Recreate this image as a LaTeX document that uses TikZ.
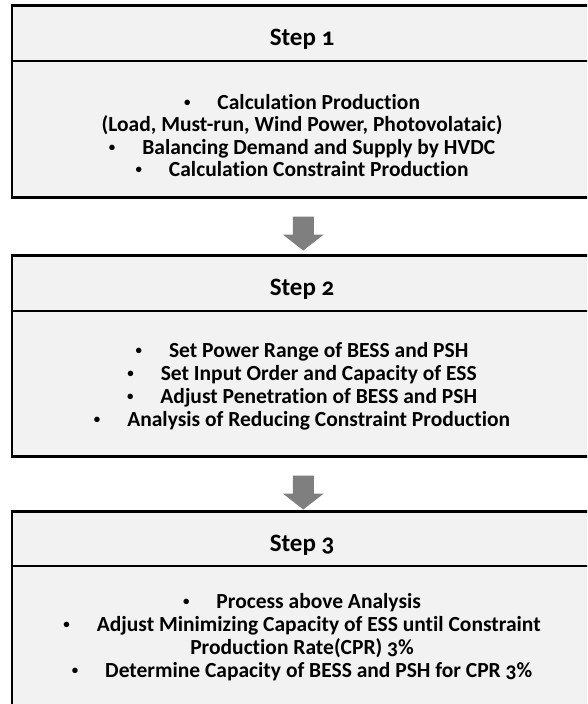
\documentclass[tikz,border=0pt]{standalone}
\usepackage{fontspec}
\usepackage{graphicx}
\setmainfont{Carlito}[Numbers=OldStyle, Ligatures=NoCommon]
\usetikzlibrary{calc}
\definecolor{boxfill}{HTML}{F2F2F2}
\definecolor{arrowgray}{HTML}{7F7F7F}
\newcommand{\bitem}[1]{\raisebox{0.1em}{\scalebox{0.6}{\textbullet}}\hspace{27pt}#1}
\begin{document}
\begin{tikzpicture}[x=1pt,y=-1pt,
  box/.style={draw=black, line width=2.5pt, fill=boxfill, rectangle, inner sep=0pt, anchor=north west, minimum width=583pt},
  sepline/.style={draw=black, line width=2pt},
  hdr/.style={font=\fontsize{25}{28}\selectfont\bfseries, inner sep=0pt, anchor=base},
  body/.style={font=\fontsize{21.5}{23}\selectfont\bfseries, inner sep=0pt, anchor=base},
  blockarrow/.style={fill=arrowgray}]
\clip (0,0) rectangle (587,704);
\fill[white] (0,0) rectangle (587,704);
% boxes
\node[box, minimum height=192pt] (b1) at (10.5,4) {};
\node[box, minimum height=201pt] (b2) at (10.5,254) {};
\node[box, minimum height=200pt] (b3) at (10.5,510) {};
% header separators
\draw[sepline] (b1.west |- 0,61) -- (b1.east |- 0,61);
\draw[sepline] (b2.west |- 0,311) -- (b2.east |- 0,311);
\draw[sepline] (b3.west |- 0,566) -- (b3.east |- 0,566);
% headers
\node[hdr] (h1) at (302,45) {Step 1};
\node[hdr] (h2) at (302,295) {Step 2};
\node[hdr] (h3) at (302,551) {Step 3};
% box 1 body
\node[body] (t11) at (302,109) {\bitem{Calculation Production}};
\node[body] (t12) at (302,131) {(Load, Must-run, Wind Power, Photovolataic)};
\node[body] (t13) at (302,154) {\bitem{Balancing Demand and Supply by HVDC}};
\node[body] (t14) at (302,176) {\bitem{Calculation Constraint Production}};
% box 2 body
\node[body] (t21) at (302,357) {\bitem{Set Power Range of BESS and PSH}};
\node[body] (t22) at (302,380) {\bitem{Set Input Order and Capacity of ESS}};
\node[body] (t23) at (302,403) {\bitem{Adjust Penetration of BESS and PSH}};
\node[body] (t24) at (302,426) {\bitem{Analysis of Reducing Constraint Production}};
% box 3 body
\node[body] (t31) at (302,608) {\bitem{Process above Analysis}};
\node[body] (t32) at (302,631) {\bitem{Adjust Minimizing Capacity of ESS until Constraint}};
\node[body] (t33) at (302,654) {Production Rate(CPR) 3\%};
\node[body] (t34) at (302,677) {\bitem{Determine Capacity of BESS and PSH for CPR 3\%}};
% arrows
\coordinate (a1) at ($(b1.south)+(0,18)$);
\coordinate (a2) at ($(b2.south)+(0,18)$);
\fill[blockarrow] (a1) ++(-10.5,0) -- ++(21,0) -- ++(0,18) -- ++(10,0) -- ++(-20.5,16) -- ++(-20.5,-16) -- ++(10,0) -- cycle;
\fill[blockarrow] (a2) ++(-10.5,0) -- ++(21,0) -- ++(0,18) -- ++(10,0) -- ++(-20.5,16) -- ++(-20.5,-16) -- ++(10,0) -- cycle;
\end{tikzpicture}
\end{document}
